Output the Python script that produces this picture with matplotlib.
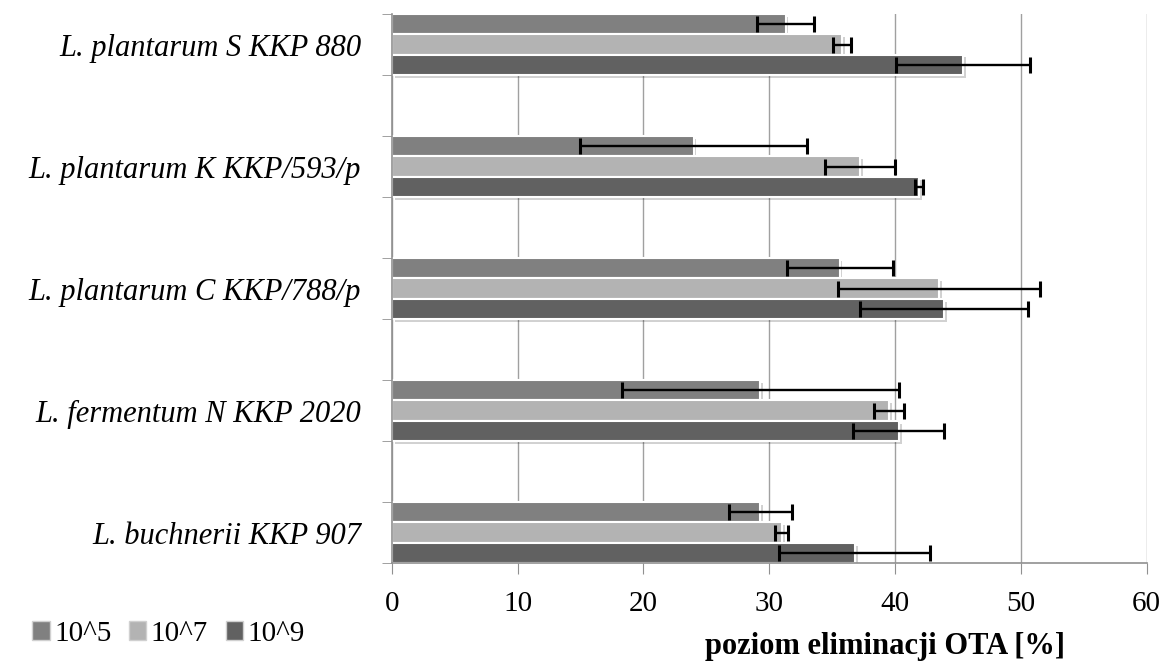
import matplotlib.pyplot as plt
import matplotlib.patheffects as pe
from matplotlib.patches import Patch
import numpy as np

strains = ['L. plantarum S KKP 880', 'L. plantarum K KKP/593/p',
           'L. plantarum C KKP/788/p', 'L. fermentum N KKP 2020',
           'L. buchnerii KKP 907']
series = ['10^5', '10^7', '10^9']
colors = ['#808080', '#b3b3b3', '#616161']

val_1e5 = [31.3, 24.0, 35.6, 29.3, 29.3]
err_1e5 = [2.3, 9.0, 4.2, 11.0, 2.5]
val_1e7 = [35.8, 37.2, 43.5, 39.5, 31.0]
err_1e7 = [0.7, 2.8, 8.0, 1.2, 0.5]
val_1e9 = [45.4, 41.9, 43.9, 40.3, 36.8]
err_1e9 = [5.3, 0.35, 6.7, 3.6, 6.0]

values = [val_1e5, val_1e7, val_1e9]
errors = [err_1e5, err_1e7, err_1e9]

plt.rcParams['font.family'] = ['Liberation Serif', 'DejaVu Serif']

fig = plt.figure(figsize=(11.74, 6.68), dpi=100)
ax = fig.add_axes([0.3337, 0.157, 0.643, 0.822])

# categories sit on every second slot, empty slots between them
pos = np.arange(len(strains)) * 2
h = 1.0 / 3
shadow = [pe.SimplePatchShadow(offset=(2, -2), shadow_rgbFace='#000000', alpha=0.18), pe.Normal()]

for i, (vals, errs) in enumerate(zip(values, errors)):
    y = pos - 1.0 / 3 + i * h
    bars = ax.barh(y, vals, height=h, color=colors[i], edgecolor='white',
                   linewidth=1.5, zorder=3)
    for b in bars:
        b.set_path_effects(shadow)
    ax.errorbar(vals, y, xerr=errs, fmt='none', ecolor='black', elinewidth=1.7,
                capsize=5.5, capthick=2.2, zorder=4)

ax.set_xlim(0, 60)
ax.set_ylim(8.5, -0.5)
ax.set_xticks(range(0, 61, 10))
ax.set_yticks(pos)
ax.set_yticklabels(strains, fontsize=22, style='italic')
ax.set_yticks(np.arange(-0.5, 9, 1), minor=True)
ax.tick_params(axis='y', which='major', length=0, pad=22)
ax.tick_params(axis='y', which='minor', length=7, color='#909090', direction='out')
ax.tick_params(axis='x', labelsize=21, length=8, color='#909090', direction='out', pad=12)

ax.grid(axis='x', color='#a0a0a0', linewidth=1, zorder=0)
ax.set_axisbelow(True)
for s in ['top', 'right']:
    ax.spines[s].set_visible(False)
for s in ['left', 'bottom']:
    ax.spines[s].set_color('#909090')
    ax.spines[s].set_linewidth(1.2)
    ax.spines[s].set_zorder(5)

fig.text(0.754, 0.032, 'poziom eliminacji OTA [%]', ha='center', va='center',
         fontsize=22, fontweight='bold')

handles = [Patch(facecolor=c, edgecolor='#d0d0d0') for c in colors]
fig.legend(handles, series, loc='center left', bbox_to_anchor=(0.015, 0.051),
           ncol=3, frameon=False, fontsize=21, handlelength=0.6, handleheight=0.6,
           handletextpad=0.15, columnspacing=0.6, borderpad=0)

fig.savefig('out.png', dpi=100)
